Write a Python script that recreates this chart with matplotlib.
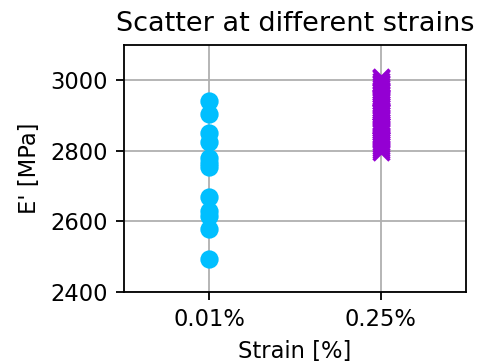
import matplotlib
matplotlib.use('Agg')
import matplotlib.pyplot as plt

# storage modulus readings at two strain amplitudes
strain_labels = ['0.01%', '0.25%']
e_low = [2940, 2905, 2850, 2825, 2780, 2765, 2755, 2670, 2630, 2615, 2580, 2495]
e_high = [3010, 3005, 2998, 2992, 2985, 2979, 2972, 2966, 2960, 2953,
          2947, 2941, 2934, 2928, 2921, 2915, 2909, 2902, 2896, 2890,
          2883, 2877, 2871, 2864, 2858, 2852, 2845, 2839, 2833, 2826,
          2820, 2814, 2808, 2802, 2798, 2990, 2950, 2910, 2870, 2830]

DPI = 163
fig, ax = plt.subplots(figsize=(482 / DPI, 362 / DPI), dpi=DPI)
ax.scatter([0] * len(e_low), e_low, s=50, color='deepskyblue', marker='o', zorder=3)
ax.scatter([1] * len(e_high), e_high, s=50, color='darkviolet', marker='x',
           linewidths=1.5, zorder=3)
ax.set_xticks([0, 1])
ax.set_xticklabels(strain_labels)
ax.set_xlim(-0.5, 1.5)
ax.set_ylim(2400, 3100)
ax.set_yticks([2400, 2600, 2800, 3000])
ax.grid(True)
ax.set_axisbelow(True)
ax.set_xlabel('Strain [%]')
ax.set_ylabel("E' [MPa]")
ax.set_title('Scatter at different strains')
fig.subplots_adjust(left=0.257, right=0.967, top=0.876, bottom=0.193)
fig.savefig('out.png', dpi=DPI)
